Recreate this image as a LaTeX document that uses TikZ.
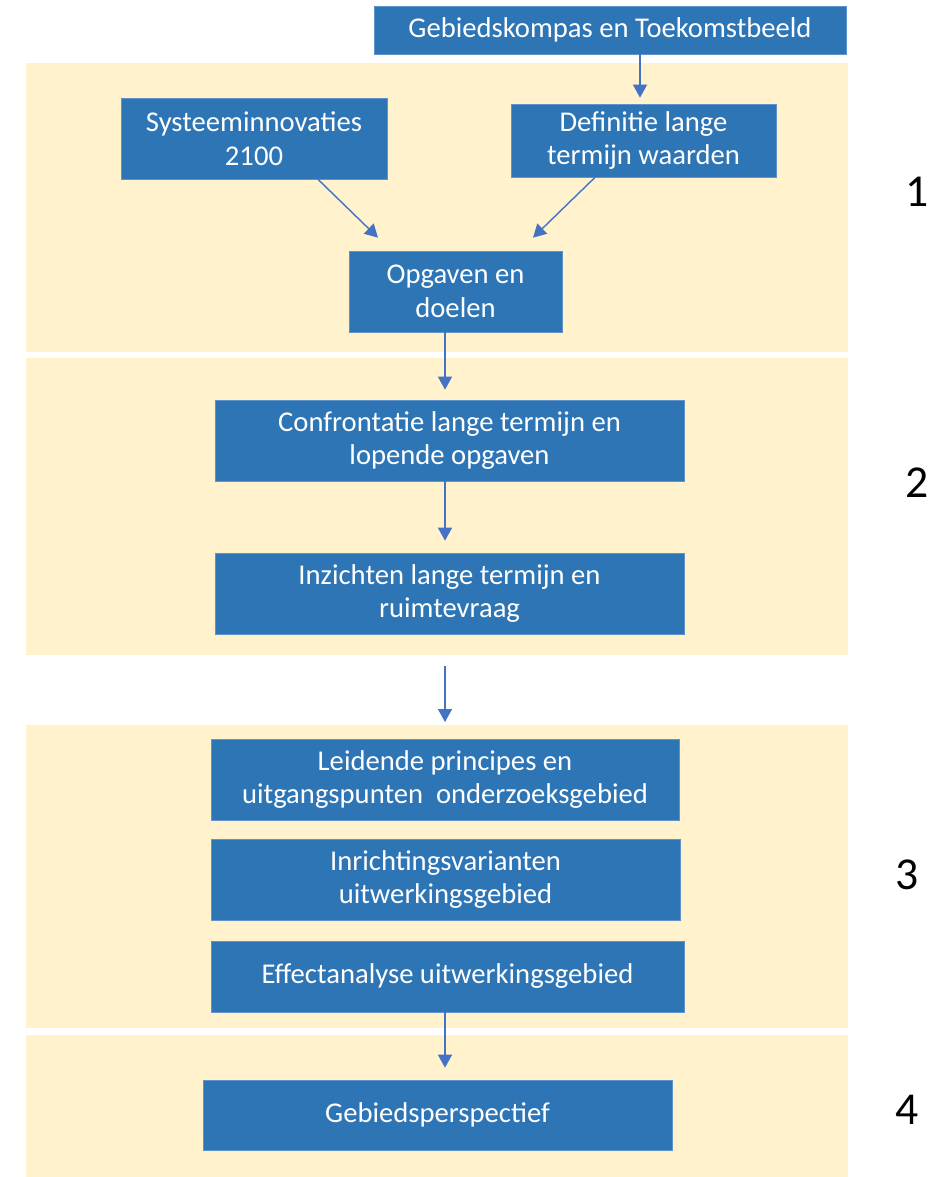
\documentclass[tikz,border=0pt]{standalone}
\usepackage{fontspec}
\setmainfont{Carlito}
\definecolor{stepblue}{RGB}{46,117,182}
\definecolor{stepedge}{RGB}{96,146,204}
\definecolor{bandcream}{RGB}{255,242,204}
\definecolor{arrowblue}{RGB}{68,114,196}
\usetikzlibrary{arrows.meta,positioning,calc}

\begin{document}
\begin{tikzpicture}[x=0.02cm, y=-0.02cm,
    band/.style={fill=bandcream, inner sep=0, anchor=north west, minimum width=16.44cm},
    stepbox/.style={draw=stepedge, line width=0.4pt, fill=stepblue, text=white, align=center, inner sep=0, font=\fontsize{16.3}{19.2}\selectfont},
    flow/.style={-{Triangle[width=0.28cm,length=0.26cm]}, draw=arrowblue, line width=0.8pt},
    phase/.style={font=\fontsize{26}{30}\selectfont}]
    \useasboundingbox (0,0) rectangle (940,1177);

    % Bands
    \node[band, minimum height=5.78cm] (band1) at (26,63) {};
    \node[band, minimum height=5.94cm] (band2) at (26,358) {};
    \node[band, minimum height=6.06cm] (band3) at (26,725) {};
    \node[band, minimum height=2.84cm] (band4) at (26,1035) {};

    % Phase 1
    \node[stepbox, minimum width=9.44cm, minimum height=0.96cm] (kompas) at (610,30) {Gebiedskompas en Toekomstbeeld};
    \node[stepbox, minimum width=5.32cm, minimum height=1.62cm] (sys) at (254,138.5) {Systeeminnovaties\\2100};
    \node[stepbox, minimum width=5.3cm, minimum height=1.46cm] (def) at (643.5,140.5) {Definitie lange\\termijn waarden};
    \node[stepbox, minimum width=4.26cm, minimum height=1.62cm] (opg) at (455.5,291.5) {Opgaven en\\doelen};

    % Phase 2
    \node[stepbox, minimum width=9.38cm, minimum height=1.62cm] (conf) at (449.5,440.5) {Confrontatie lange termijn en\\lopende opgaven};
    \node[stepbox, minimum width=9.38cm, minimum height=1.62cm] (inz) at (449.5,593.5) {Inzichten lange termijn en\\ruimtevraag};

    % Phase 3
    \node[stepbox, minimum width=9.36cm, minimum height=1.62cm] (leid) at (445,779.5) {Leidende principes en\\uitgangspunten\ \ onderzoeksgebied};
    \node[stepbox, minimum width=9.38cm, minimum height=1.62cm] (inr) at (445.5,879.5) {Inrichtingsvarianten\\uitwerkingsgebied};
    \node[stepbox, minimum width=9.46cm, minimum height=1.42cm] (eff) at (447.5,976.5) {Effectanalyse uitwerkingsgebied};

    % Phase 4
    \node[stepbox, minimum width=9.38cm, minimum height=1.4cm] (geb) at (437.5,1115) {Gebiedsperspectief};

    % Phase numbers
    \node[phase] (n1) at (917,192) {1};
    \node[phase] (n2) at (917,483) {2};
    \node[phase] (n3) at (907,875) {3};
    \node[phase] (n4) at (907,1110) {4};

    % Connections
    \coordinate (axis) at (445,0);
    \coordinate (kaxis) at (640,0);
    \draw[flow, shorten >=0.12cm] (kompas.south -| kaxis) -- (def.north -| kaxis);
    \draw[flow] ($(sys.south)+(64,0)$) -- ($(opg.north)+(-77.5,-13)$);
    \draw[flow] ($(def.south)+(-48.5,0)$) -- ($(opg.north)+(77.5,-13)$);
    \draw[flow, shorten >=0.2cm] (opg.south -| axis) -- (conf.north -| axis);
    \draw[flow, shorten >=0.24cm] (conf.south -| axis) -- (inz.north -| axis);
    \draw[flow, shorten <=0.2cm, shorten >=0.06cm] (band2.south -| axis) -- (band3.north -| axis);
    \draw[flow, shorten >=0.24cm] (eff.south -| axis) -- (geb.north -| axis);
\end{tikzpicture}
\end{document}
